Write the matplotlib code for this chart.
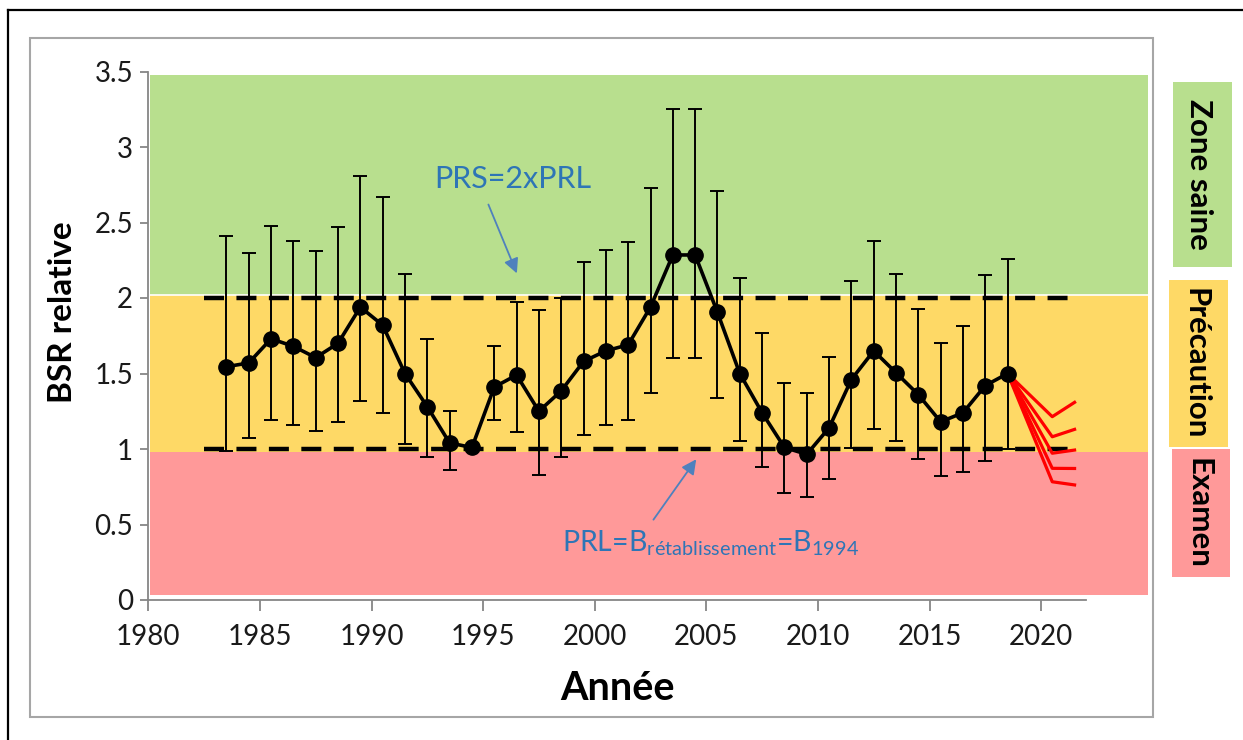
import matplotlib
matplotlib.use("Agg")
import matplotlib.pyplot as plt
from matplotlib.patches import Rectangle
from matplotlib.lines import Line2D
import numpy as np

plt.rcParams['font.family'] = ['Lato', 'DejaVu Sans']
plt.rcParams['mathtext.default'] = 'regular'

# ---------------- data ----------------
years = list(range(1983, 2019))
bsr = [1.545, 1.57, 1.73, 1.68, 1.605, 1.70, 1.94, 1.82, 1.50, 1.28, 1.04, 1.01,
       1.41, 1.49, 1.25, 1.385, 1.58, 1.65, 1.69, 1.94, 2.285, 2.285, 1.905, 1.50,
       1.24, 1.01, 0.965, 1.14, 1.46, 1.65, 1.505, 1.36, 1.18, 1.24, 1.42, 1.50]
ci_high = [2.41, 2.30, 2.48, 2.38, 2.31, 2.47, 2.81, 2.67, 2.16, 1.73, 1.25, np.nan,
           1.68, 1.975, 1.92, 2.00, 2.24, 2.32, 2.37, 2.73, 3.25, 3.25, 2.71, 2.13,
           1.77, 1.44, 1.37, 1.61, 2.11, 2.38, 2.16, 1.93, 1.70, 1.815, 2.15, 2.26]
ci_low = [0.99, 1.075, 1.19, 1.16, 1.12, 1.18, 1.32, 1.24, 1.03, 0.95, 0.86, np.nan,
          1.19, 1.11, 0.83, 0.945, 1.09, 1.16, 1.19, 1.37, 1.60, 1.60, 1.335, 1.05,
          0.88, 0.71, 0.685, 0.80, 1.005, 1.135, 1.05, 0.935, 0.82, 0.845, 0.92, 1.00]

proj_years = [2018, 2020, 2021]
proj_1 = [1.50, 1.214, 1.309]
proj_2 = [1.50, 1.081, 1.130]
proj_3 = [1.50, 0.972, 0.993]
proj_4 = [1.50, 0.872, 0.871]
proj_5 = [1.50, 0.783, 0.762]

prl = 1.0
prs = 2.0
zone_bounds = [0.03, 0.98, 2.02, 3.48]          # Examen / Précaution / Zone saine
zone_colors = ['#FF9999', '#FED966', '#B8DF8E']
zone_labels = ['Examen', 'Précaution', 'Zone saine']

x_ticks = [1980, 1985, 1990, 1995, 2000, 2005, 2010, 2015, 2020]
y_ticks = [0, 0.5, 1, 1.5, 2, 2.5, 3, 3.5]

# ---------------- figure ----------------
W, H = 1243, 740
fig = plt.figure(figsize=(W / 100, H / 100), dpi=100)

def fx(px):
    return px / W

def fy(py):
    return 1 - py / H

# outer frames
fig.add_artist(Line2D([fx(8), fx(1243)], [fy(10), fy(10)], color='black', lw=1.6,
                      transform=fig.transFigure))
fig.add_artist(Line2D([fx(8), fx(8)], [fy(10), fy(740)], color='black', lw=1.6,
                      transform=fig.transFigure))
fig.add_artist(Rectangle((fx(30), fy(717)), fx(1153) - fx(30), fy(38) - fy(717),
                         transform=fig.transFigure, fill=False, ec='#A6A6A6', lw=1.5))

ax_left, ax_right, ax_top, ax_bottom = 148.3, 1148.2, 71.5, 600
ax = fig.add_axes([fx(ax_left), fy(ax_bottom), fx(ax_right) - fx(ax_left),
                   fy(ax_top) - fy(ax_bottom)])
ax.patch.set_alpha(0)

px_per_year = 22.32
ax.set_xlim(1980, 1980 + (ax_right - ax_left) / px_per_year)
ax.set_ylim(0, 3.5)

# zones
for lo, hi, c in zip(zone_bounds[:-1], zone_bounds[1:], zone_colors):
    ax.axhspan(lo, hi, xmin=0.002, xmax=1.0, color=c, lw=0, zorder=0)
ax.axhline(zone_bounds[2], xmin=0.002, color='white', lw=1.2, zorder=0.5)

# reference lines
for lvl in (prl, prs):
    ax.plot([1982.5, 2021.5], [lvl, lvl], color='black', lw=3.2,
            dashes=(4.5, 2.8), zorder=2, solid_capstyle='butt')

xs = np.array(years) + 0.5
b = np.array(bsr)
hi = np.array(ci_high)
lo = np.array(ci_low)
m = np.isfinite(hi)
ax.errorbar(xs[m], b[m], yerr=[b[m] - lo[m], hi[m] - b[m]], fmt='none',
            ecolor='black', elinewidth=1.4, capsize=4.8, capthick=1.4, zorder=3)

px = np.array(proj_years) + 0.5
for p in (proj_1, proj_2, proj_3, proj_4, proj_5):
    ax.plot(px, p, color='#FF0000', lw=2.3, zorder=3.5)

ax.plot(xs, b, color='black', lw=2.6, marker='o', ms=11, zorder=4)

# axes styling
for s in ('top', 'right'):
    ax.spines[s].set_visible(False)
for s in ('left', 'bottom'):
    ax.spines[s].set_color('#868686')
    ax.spines[s].set_linewidth(1.3)
ax.spines['bottom'].set_bounds(1980, 2022)

ax.set_xticks(x_ticks)
ax.set_xticklabels([str(t) for t in x_ticks])
ax.set_yticks(y_ticks)
ax.set_yticklabels(['{:g}'.format(t) for t in y_ticks])
ax.tick_params(axis='x', length=8, width=1.3, color='#868686', pad=9,
               labelsize=20, labelcolor='#1a1a1a')
ax.tick_params(axis='y', length=6, width=1.3, color='#868686', pad=5,
               labelsize=20, labelcolor='#1a1a1a')

# annotations
blue = '#2E75B6'
arrow_c = '#4F81BD'
ax.text(1996.34, 2.79, 'PRS=2xPRL', color=blue, fontsize=22, ha='center', va='center')
ax.annotate('', xy=(1996.56, 2.146), xytext=(1995.19, 2.636),
            arrowprops=dict(arrowstyle='-|>', color=arrow_c, lw=1.3, mutation_scale=22))
ax.text(1998.53, 0.318, r'PRL=B$_{rétablissement}$=B$_{1994}$', color=blue,
        fontsize=20.5, ha='left', va='baseline')
ax.annotate('', xy=(2004.62, 0.947), xytext=(2002.56, 0.517),
            arrowprops=dict(arrowstyle='-|>', color=arrow_c, lw=1.3, mutation_scale=22))

# axis titles
fig.text(fx(63), fy(312), 'BSR relative', rotation=90, fontsize=24, fontweight='bold',
         ha='center', va='center', color='black')
fig.text(fx(617), fy(688), 'Année', fontsize=28.5, fontweight='bold',
         ha='center', va='center', color='black')

# right-side zone labels
boxes = [(1172, 449, 1230, 577), (1169, 280, 1228, 447), (1173, 82, 1232, 267)]
for (x0, y0, x1, y1), c, lab in zip(boxes, zone_colors, zone_labels):
    fig.add_artist(Rectangle((fx(x0), fy(y1)), fx(x1) - fx(x0), fy(y0) - fy(y1),
                             transform=fig.transFigure, color=c, lw=0))
    fig.text(fx((x0 + x1) / 2 - 3), fy((y0 + y1) / 2), lab, rotation=-90, fontsize=22.5,
             fontweight='bold', ha='center', va='center', color='black')

fig.savefig('out.png', dpi=100)
